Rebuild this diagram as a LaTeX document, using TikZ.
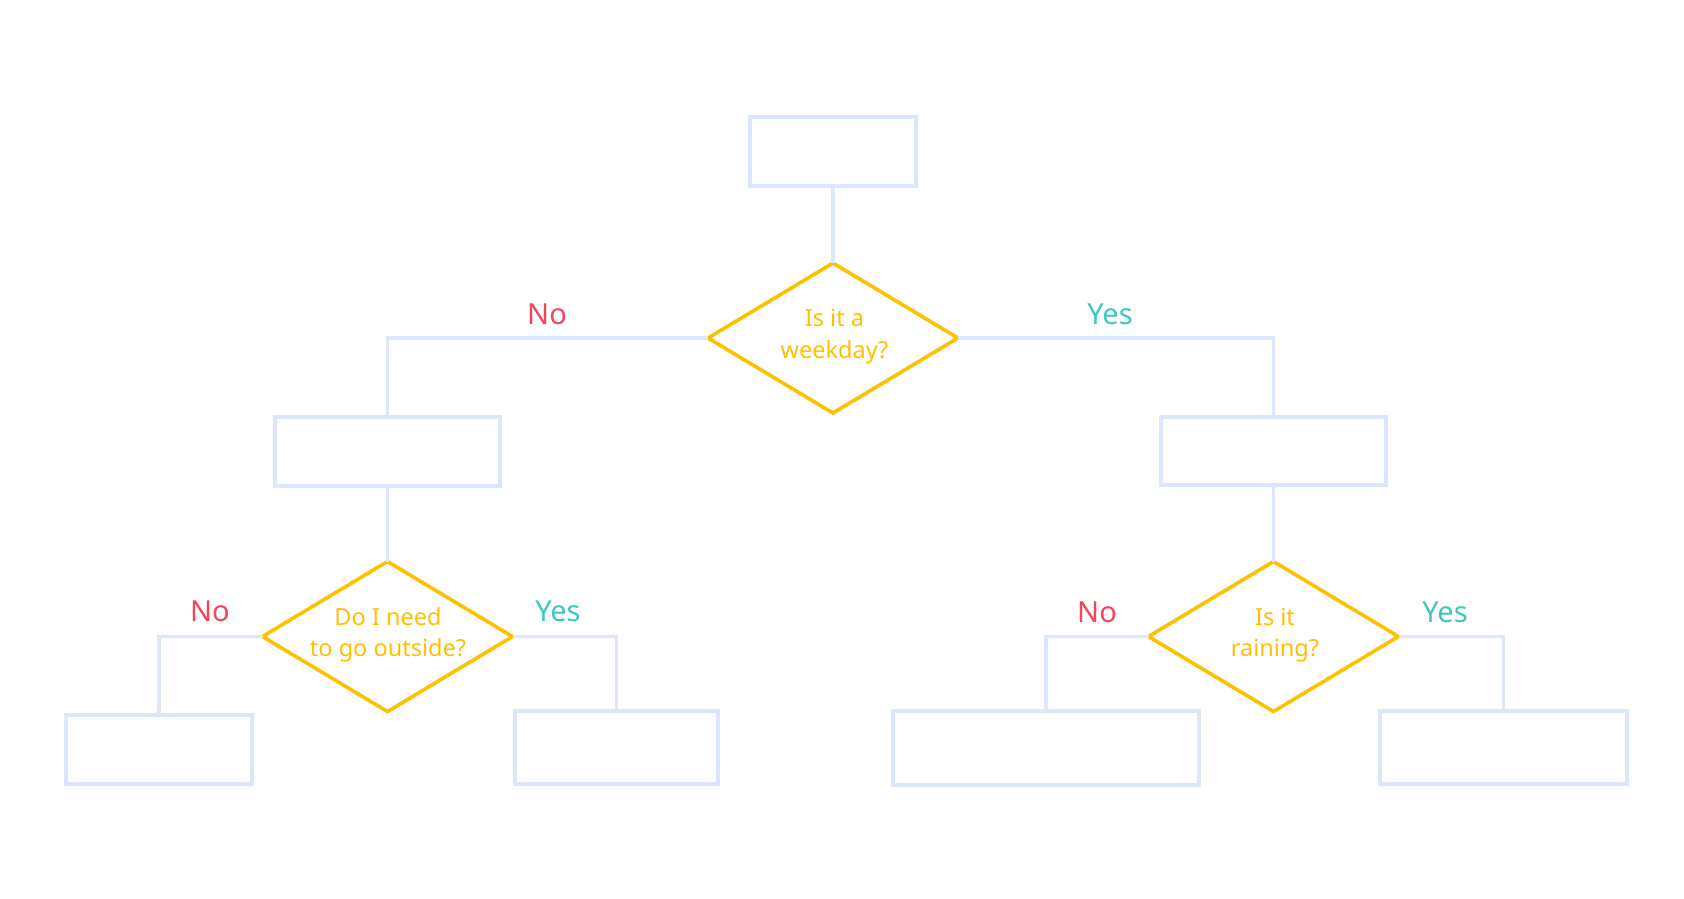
\documentclass[tikz,border=0pt]{standalone}
\usepackage{fontspec}
\setmainfont{Noto Sans}
\usetikzlibrary{shapes.geometric}
\definecolor{boxline}{HTML}{DCE6FC}
\definecolor{dyellow}{HTML}{FFC000}
\definecolor{nored}{HTML}{F5455C}
\definecolor{yesteal}{HTML}{3CC8BC}
\tikzset{
  stepbox/.style={draw=boxline, line width=3.5pt, rectangle, inner sep=0pt, outer sep=0pt},
  decision/.style={draw=dyellow, line width=3.6pt, diamond, minimum width=250pt, minimum height=150pt, inner sep=0pt, outer sep=0pt},
  dtext/.style={text=dyellow, align=center, inner sep=0pt, font=\fontsize{23.5}{31.5}\selectfont},
  conn/.style={draw=boxline, line width=3.5pt},
  nolabel/.style={text=nored, anchor=base, inner sep=0pt, font=\fontsize{29}{34}\selectfont},
  yeslabel/.style={text=yesteal, anchor=base, inner sep=0pt, font=\fontsize{29}{34}\selectfont}
}
\begin{document}
\begin{tikzpicture}[x=1pt, y=-1pt]
\useasboundingbox (0,0) rectangle (1684,898);
% boxes
\node[stepbox, minimum width=166pt, minimum height=69pt] (b0) at (833,151.5) {};
\node[stepbox, minimum width=225pt, minimum height=69pt] (b1) at (387.5,451.5) {};
\node[stepbox, minimum width=225pt, minimum height=68pt] (b2) at (1273.5,451) {};
\node[stepbox, minimum width=186pt, minimum height=69pt] (ll) at (159,749.5) {};
\node[stepbox, minimum width=203pt, minimum height=73pt] (lr) at (616.5,747.5) {};
\node[stepbox, minimum width=306pt, minimum height=74pt] (rl) at (1046,748) {};
\node[stepbox, minimum width=247pt, minimum height=73pt] (rr) at (1503.5,747.5) {};
% decisions
\node[decision] (d1) at (833,338) {};
\node[decision] (d2) at (387.5,636.5) {};
\node[decision] (d3) at (1273.5,636.5) {};
\node[dtext] (d1t) at (834.5,336) {\strut Is it a\\\strut weekday?};
\node[dtext] (d2t) at (388,634.5) {\strut Do I need\\\strut to go outside?};
\node[dtext] (d3t) at (1275,634.5) {\strut Is it\\\strut raining?};
% connectors
\draw[conn] (b0.south) -- (d1.north);
\draw[conn] (d1.west) -| (b1.north);
\draw[conn] (d1.east) -| (b2.north);
\draw[conn] (b1.south) -- (d2.north);
\draw[conn] (b2.south) -- (d3.north);
\draw[conn] (d2.west) -| (ll.north);
\draw[conn] (d2.east) -| (lr.north);
\draw[conn] (d3.west) -| (rl.north);
\draw[conn] (d3.east) -| (rr.north);
% labels
\node[nolabel] (n1) at (547,324) {No};
\node[yeslabel] (y1) at (1110,324) {Yes};
\node[nolabel] (n2) at (210,621.5) {No};
\node[yeslabel] (y2) at (558,621.5) {Yes};
\node[nolabel] (n3) at (1097,622) {No};
\node[yeslabel] (y3) at (1445,622) {Yes};
\end{tikzpicture}
\end{document}
